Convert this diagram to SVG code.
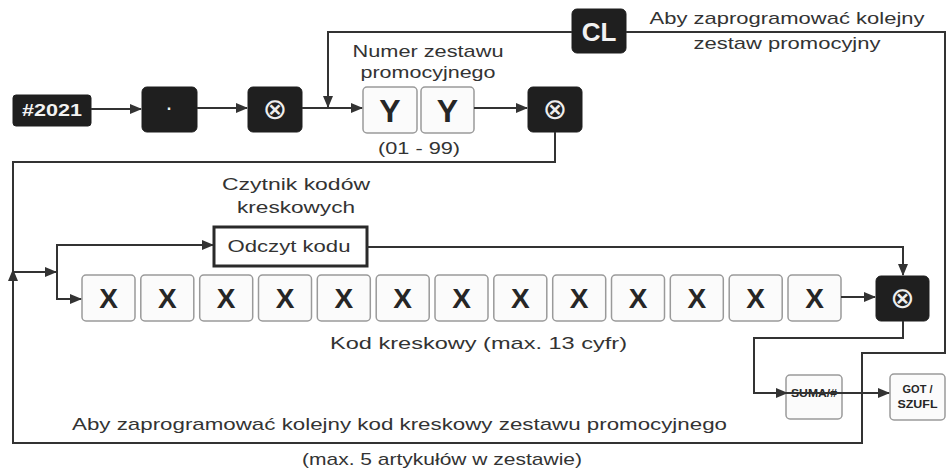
<svg xmlns="http://www.w3.org/2000/svg" width="947" height="469" viewBox="0 0 947 469">
<style>
  .dark{fill:#1f1f1f;stroke:#1f1f1f;stroke-width:1}
  .light{fill:#fbfbfb;stroke:#9a9a9a;stroke-width:1.5}
  .wt{fill:#f2f2f2;font-family:"Liberation Sans",Arial,sans-serif;text-anchor:middle}
  .kt{fill:#262626;font-family:"Liberation Sans",Arial,sans-serif;font-weight:bold;text-anchor:middle}
  .lbl{fill:#333;font-family:"Liberation Sans",Arial,sans-serif;font-size:17px}
  .c{text-anchor:middle}
  .sym{fill:#eee;font-family:"DejaVu Sans",sans-serif;font-size:29px;text-anchor:middle}
  .ln{fill:none;stroke:#333;stroke-width:2}
</style>
<defs>
  <marker id="ah" markerWidth="12" markerHeight="10" refX="11" refY="5" orient="auto" markerUnits="userSpaceOnUse">
    <path d="M0,0 L12,5 L0,10 Z" fill="#333"/>
  </marker>
</defs>
<rect width="947" height="469" fill="#ffffff"/>

<g id="n-2021"><rect class="dark" x="13" y="95" width="78" height="31" rx="3"/><text class="wt" x="52" y="116" font-size="16" font-weight="bold" textLength="60" lengthAdjust="spacingAndGlyphs">#2021</text></g>
<g id="n-dot"><rect class="dark" x="142" y="87" width="55" height="45" rx="5"/><text class="wt" x="169.5" y="114" font-size="16" font-weight="bold">·</text></g>
<g id="n-x1"><rect class="dark" x="248" y="87" width="54" height="45" rx="5"/><text class="sym" x="275" y="119">⊗</text></g>
<g id="n-y1"><rect class="light" x="363" y="87" width="54" height="46" rx="4"/><text class="kt" x="390" y="122" font-size="32">Y</text></g>
<g id="n-y2"><rect class="light" x="421" y="87" width="53" height="46" rx="4"/><text class="kt" x="447.5" y="122" font-size="32">Y</text></g>
<g id="n-x2"><rect class="dark" x="528" y="87" width="54" height="45" rx="5"/><text class="sym" x="555" y="119">⊗</text></g>
<g id="n-cl"><rect class="dark" x="572" y="9" width="54" height="44" rx="5"/><text class="wt" x="599" y="41" font-size="26" font-weight="bold">CL</text></g>
<g id="n-odczyt"><rect x="214" y="227" width="153" height="39" fill="#fff" stroke="#2a2a2a" stroke-width="3"/><text class="lbl c" x="289" y="252" textLength="123" lengthAdjust="spacingAndGlyphs">Odczyt kodu</text></g>

<g id="n-xs">
  <rect class="light" x="82" y="275" width="53" height="46" rx="4"/><text class="kt" x="108.5" y="308" font-size="28">X</text>
  <rect class="light" x="140.8" y="275" width="53" height="46" rx="4"/><text class="kt" x="167.3" y="308" font-size="28">X</text>
  <rect class="light" x="199.7" y="275" width="53" height="46" rx="4"/><text class="kt" x="226.2" y="308" font-size="28">X</text>
  <rect class="light" x="258.5" y="275" width="53" height="46" rx="4"/><text class="kt" x="285" y="308" font-size="28">X</text>
  <rect class="light" x="317.3" y="275" width="53" height="46" rx="4"/><text class="kt" x="343.8" y="308" font-size="28">X</text>
  <rect class="light" x="376.2" y="275" width="53" height="46" rx="4"/><text class="kt" x="402.7" y="308" font-size="28">X</text>
  <rect class="light" x="435" y="275" width="53" height="46" rx="4"/><text class="kt" x="461.5" y="308" font-size="28">X</text>
  <rect class="light" x="493.8" y="275" width="53" height="46" rx="4"/><text class="kt" x="520.3" y="308" font-size="28">X</text>
  <rect class="light" x="552.7" y="275" width="53" height="46" rx="4"/><text class="kt" x="579.2" y="308" font-size="28">X</text>
  <rect class="light" x="611.5" y="275" width="53" height="46" rx="4"/><text class="kt" x="638" y="308" font-size="28">X</text>
  <rect class="light" x="670.3" y="275" width="53" height="46" rx="4"/><text class="kt" x="696.8" y="308" font-size="28">X</text>
  <rect class="light" x="729.2" y="275" width="53" height="46" rx="4"/><text class="kt" x="755.7" y="308" font-size="28">X</text>
  <rect class="light" x="788" y="275" width="53" height="46" rx="4"/><text class="kt" x="814.5" y="308" font-size="28">X</text>
</g>
<g id="n-x3"><rect class="dark" x="876" y="276" width="53" height="45" rx="5"/><text class="sym" x="902.5" y="308">⊗</text></g>
<g id="n-suma"><rect class="light" x="786" y="375" width="56" height="44" rx="4"/><text class="kt" x="814" y="397" font-size="11" textLength="46" lengthAdjust="spacingAndGlyphs">SUMA/#</text></g>
<g id="n-got"><rect class="light" x="890" y="374" width="55" height="46" rx="4"/><text class="kt" x="917.5" y="393" font-size="11">GOT /</text><text class="kt" x="917.5" y="408" font-size="11" textLength="40" lengthAdjust="spacingAndGlyphs">SZUFL</text></g>

<g id="connectors">
  <path class="ln" d="M91,109 H141" marker-end="url(#ah)"/>
  <path class="ln" d="M197,108 H247" marker-end="url(#ah)"/>
  <path class="ln" d="M302,108 H362" marker-end="url(#ah)"/>
  <path class="ln" d="M572,32 H328 V107" marker-end="url(#ah)"/>
  <path class="ln" d="M474,108 H527" marker-end="url(#ah)"/>
  <path class="ln" d="M555,132 V162 H13 V272"/>
  <path class="ln" d="M626,32 H945 V353 H862 V443 H13 V270" marker-end="url(#ah)"/>
  <path class="ln" d="M13,272 H56" marker-end="url(#ah)"/>
  <path class="ln" d="M57,299 V245 H213" marker-end="url(#ah)"/>
  <path class="ln" d="M57,272 V299 H81" marker-end="url(#ah)"/>
  <path class="ln" d="M367,247 H903 V275" marker-end="url(#ah)"/>
  <path class="ln" d="M841,297 H875" marker-end="url(#ah)"/>
  <path class="ln" d="M903,321 V338 H754 V393 H787" marker-end="url(#ah)"/>
  <path class="ln" d="M787,393 H889" marker-end="url(#ah)"/>
</g>

<g id="labels">
  <text class="lbl c" x="428" y="57" textLength="151" lengthAdjust="spacingAndGlyphs">Numer zestawu</text>
  <text class="lbl c" x="428" y="78" textLength="135" lengthAdjust="spacingAndGlyphs">promocyjnego</text>
  <text class="lbl c" x="419" y="154" textLength="82" lengthAdjust="spacingAndGlyphs">(01 - 99)</text>
  <text class="lbl c" x="787" y="24" textLength="275" lengthAdjust="spacingAndGlyphs">Aby  zaprogramować kolejny</text>
  <text class="lbl c" x="787" y="49" textLength="187" lengthAdjust="spacingAndGlyphs">zestaw  promocyjny</text>
  <text class="lbl c" x="296" y="190" textLength="148" lengthAdjust="spacingAndGlyphs">Czytnik kodów</text>
  <text class="lbl c" x="296" y="213" textLength="118" lengthAdjust="spacingAndGlyphs">kreskowych</text>
  <text class="lbl" x="330" y="349" textLength="297" lengthAdjust="spacingAndGlyphs">Kod kreskowy  (max. 13 cyfr)</text>
  <text class="lbl" x="72" y="430" textLength="655" lengthAdjust="spacingAndGlyphs">Aby zaprogramować kolejny kod  kreskowy  zestawu promocyjnego</text>
  <text class="lbl" x="302" y="465" textLength="280" lengthAdjust="spacingAndGlyphs">(max. 5 artykułów w zestawie)</text>
</g>
</svg>
